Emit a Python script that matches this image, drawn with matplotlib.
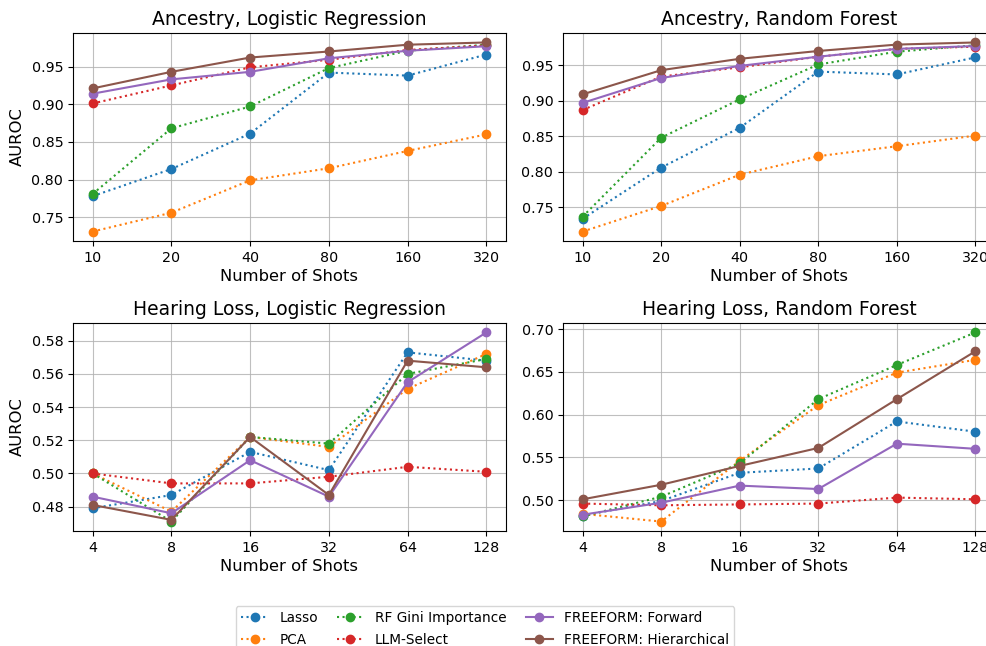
import matplotlib
matplotlib.use("Agg")
import matplotlib.pyplot as plt
from matplotlib.ticker import MultipleLocator
import numpy as np

methods = ["Lasso", "PCA", "RF Gini Importance", "LLM-Select",
           "FREEFORM: Forward", "FREEFORM: Hierarchical"]
colors = ["#1f77b4", "#ff7f0e", "#2ca02c", "#d62728", "#9467bd", "#8c564b"]
styles = [":", ":", ":", ":", "-", "-"]

shots_ancestry = ["10", "20", "40", "80", "160", "320"]
shots_hearing = ["4", "8", "16", "32", "64", "128"]

anc_lr_lasso = [0.778, 0.814, 0.861, 0.942, 0.938, 0.966]
anc_lr_pca = [0.731, 0.756, 0.799, 0.815, 0.838, 0.860]
anc_lr_gini = [0.781, 0.868, 0.897, 0.948, 0.971, 0.979]
anc_lr_llm = [0.901, 0.925, 0.949, 0.959, 0.972, 0.978]
anc_lr_fwd = [0.914, 0.933, 0.943, 0.961, 0.971, 0.977]
anc_lr_hier = [0.921, 0.943, 0.962, 0.970, 0.979, 0.982]

anc_rf_lasso = [0.734, 0.806, 0.862, 0.941, 0.937, 0.961]
anc_rf_pca = [0.716, 0.752, 0.796, 0.822, 0.836, 0.851]
anc_rf_gini = [0.737, 0.848, 0.902, 0.951, 0.969, 0.978]
anc_rf_llm = [0.887, 0.934, 0.947, 0.962, 0.973, 0.976]
anc_rf_fwd = [0.897, 0.932, 0.949, 0.962, 0.973, 0.977]
anc_rf_hier = [0.909, 0.943, 0.959, 0.970, 0.979, 0.982]

hl_lr_lasso = [0.479, 0.487, 0.513, 0.502, 0.573, 0.568]
hl_lr_pca = [0.500, 0.477, 0.522, 0.516, 0.551, 0.572]
hl_lr_gini = [0.500, 0.471, 0.522, 0.518, 0.560, 0.569]
hl_lr_llm = [0.500, 0.494, 0.494, 0.498, 0.504, 0.501]
hl_lr_fwd = [0.486, 0.476, 0.508, 0.486, 0.555, 0.585]
hl_lr_hier = [0.481, 0.472, 0.522, 0.487, 0.568, 0.564]

hl_rf_lasso = [0.482, 0.499, 0.532, 0.537, 0.592, 0.580]
hl_rf_pca = [0.484, 0.475, 0.546, 0.611, 0.649, 0.664]
hl_rf_gini = [0.481, 0.504, 0.543, 0.618, 0.658, 0.696]
hl_rf_llm = [0.496, 0.494, 0.495, 0.496, 0.503, 0.501]
hl_rf_fwd = [0.483, 0.497, 0.517, 0.513, 0.566, 0.560]
hl_rf_hier = [0.501, 0.518, 0.540, 0.561, 0.618, 0.674]

panels = [
    ("Ancestry, Logistic Regression", shots_ancestry,
     [anc_lr_lasso, anc_lr_pca, anc_lr_gini, anc_lr_llm, anc_lr_fwd, anc_lr_hier], 0.05),
    ("Ancestry, Random Forest", shots_ancestry,
     [anc_rf_lasso, anc_rf_pca, anc_rf_gini, anc_rf_llm, anc_rf_fwd, anc_rf_hier], 0.05),
    ("Hearing Loss, Logistic Regression", shots_hearing,
     [hl_lr_lasso, hl_lr_pca, hl_lr_gini, hl_lr_llm, hl_lr_fwd, hl_lr_hier], 0.02),
    ("Hearing Loss, Random Forest", shots_hearing,
     [hl_rf_lasso, hl_rf_pca, hl_rf_gini, hl_rf_llm, hl_rf_fwd, hl_rf_hier], 0.05),
]

W, H = 986, 646
fig = plt.figure(figsize=(W / 100, H / 100), dpi=100)

# axes boxes in pixels: (left, top, right, bottom)
boxes = [(73, 33, 506, 241), (563, 33, 995, 241),
         (73, 323, 506, 531), (563, 323, 995, 531)]

handles = None
for i, ((title, shots, series, step), (l, t, r, b)) in enumerate(zip(panels, boxes)):
    ax = fig.add_axes([l / W, 1 - b / H, (r - l) / W, (b - t) / H])
    x = np.arange(len(shots))
    hs = []
    for name, vals, c, ls in zip(methods, series, colors, styles):
        h, = ax.plot(x, vals, linestyle=ls, marker="o", color=c, label=name,
                     markersize=6, linewidth=1.5)
        hs.append(h)
    handles = hs
    ax.set_xticks(x)
    ax.set_xticklabels(shots)
    ax.yaxis.set_major_locator(MultipleLocator(step))
    ax.set_title(title, fontsize=13.5)
    ax.set_xlabel("Number of Shots", fontsize=11.8, labelpad=3)
    if i % 2 == 0:
        ax.set_ylabel("AUROC", fontsize=11.8, labelpad=5)
    ax.tick_params(labelsize=10.3)
    ax.grid(True, color="#b0b0b0", linewidth=0.8, alpha=0.8)
    ax.set_axisbelow(True)

fig.legend(handles, methods, loc="upper center", ncol=3,
           bbox_to_anchor=(485 / W, 1 - 599 / H), fontsize=9.8,
           frameon=True, handlelength=2.0, columnspacing=1.4,
           borderpad=0.4, labelspacing=0.55)

fig.savefig("out.png", dpi=100)
